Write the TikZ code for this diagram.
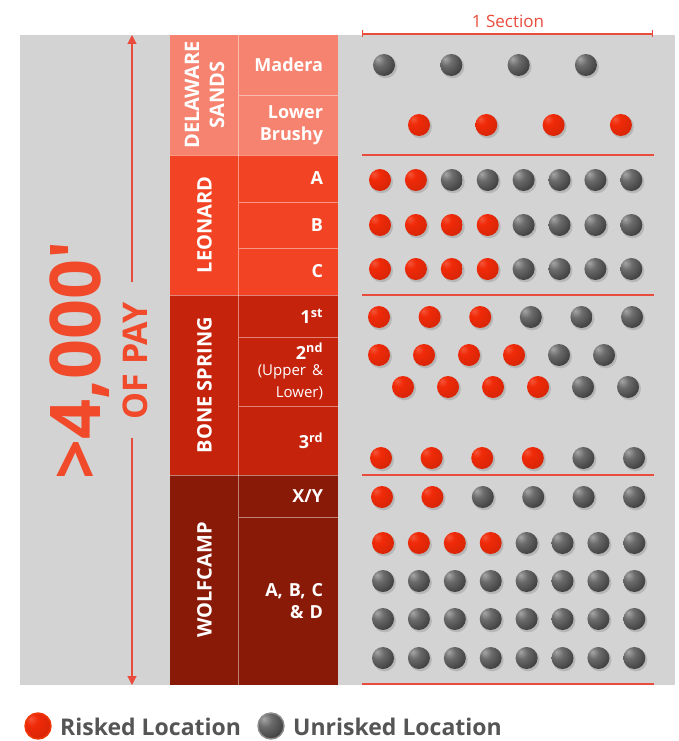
\documentclass[tikz,border=0pt]{standalone}
\usepackage{fontspec}
\setmainfont{Open Sans}
\usepackage{xcolor}
\usetikzlibrary{arrows.meta}

\definecolor{panelgray}{HTML}{D3D3D3}
\definecolor{delawarecol}{HTML}{F5836F}
\definecolor{leonardcol}{HTML}{F24424}
\definecolor{bonecol}{HTML}{C5230C}
\definecolor{wolfcol}{HTML}{8A1A08}
\definecolor{accent}{HTML}{E94B3C}
\definecolor{paycol}{HTML}{F04A2A}
\definecolor{legendtext}{HTML}{555555}
\definecolor{dotred}{HTML}{F02A08}

\pgfdeclareradialshading{redball}{\pgfpoint{-14bp}{14bp}}{%
  color(0bp)=(dotred!80!white); color(12bp)=(dotred); color(40bp)=(dotred!88!black);
  color(70bp)=(dotred!65!black); color(100bp)=(dotred!65!black)}
\pgfdeclareradialshading{grayball}{\pgfpoint{-14bp}{14bp}}{%
  color(0bp)=(black!35); color(14bp)=(black!58); color(45bp)=(black!82);
  color(70bp)=(black!90); color(100bp)=(black!90)}

\begin{document}
\begin{tikzpicture}[
    x=1pt, y=-1pt,
    zonebox/.style={
        rectangle,
        rotate=90,
        inner sep=0pt,
        minimum height=69pt,
        align=center,
        text=white,
        font=\bfseries\fontsize{20}{25}\selectfont
    },
    layerbox/.style={
        rectangle,
        minimum width=99pt,
        text width=69pt,
        inner xsep=15pt,
        inner ysep=0pt,
        align=right,
        text=white,
        font=\bfseries\fontsize{18}{22}\selectfont
    },
    divider/.style={
        draw=white,
        draw opacity=0.45,
        line width=0.9pt
    },
    sepline/.style={
        draw=accent,
        line width=1.6pt
    },
    payarrow/.style={
        -{Triangle[length=9pt,width=9pt]},
        draw=accent,
        line width=1.1pt
    },
    risked/.style={shading=redball},
    unrisked/.style={shading=grayball},
    dotshadow/.style={fill=black, fill opacity=0.13},
    legendlabel/.style={
        anchor=base west,
        inner sep=0pt,
        text=legendtext,
        font=\bfseries\fontsize{23}{26}\selectfont
    }
]
\useasboundingbox (0,0) rectangle (679,741);

% =========================================================
% Panel
% =========================================================
\fill[panelgray] (20,35) rectangle (675,685);

% =========================================================
% Formation zones
% =========================================================
\node[zonebox, fill=delawarecol, minimum width=120pt] (delaware) at (204.5,95)
{DELAWARE\\SANDS};
\node[zonebox, fill=leonardcol, minimum width=140pt] (leonard) at (204.5,225)
{LEONARD};
\node[zonebox, fill=bonecol, minimum width=180pt] (bone) at (204.5,385)
{BONE SPRING};
\node[zonebox, fill=wolfcol, minimum width=210pt] (wolfcamp) at (204.5,580)
{WOLFCAMP};

% =========================================================
% Benches
% =========================================================
\node[layerbox, fill=delawarecol, minimum height=60pt] (madera) at (288.5,65)
{Madera};
\node[layerbox, fill=delawarecol, minimum height=60pt] (brushy) at (288.5,125)
{Lower\\Brushy};

\node[layerbox, fill=leonardcol, minimum height=47pt] (leoA) at (288.5,178.5) {A};
\node[layerbox, fill=leonardcol, minimum height=46pt] (leoB) at (288.5,225) {B};
\node[layerbox, fill=leonardcol, minimum height=47pt] (leoC) at (288.5,271.5) {C};

\node[layerbox, fill=bonecol, minimum height=42pt] (bone1) at (288.5,316)
{1\textsuperscript{st}};
\node[layerbox, fill=bonecol, minimum height=69pt] (bone2) at (288.5,371.5)
{2\textsuperscript{nd}\\[-2pt]\mdseries\fontsize{15}{18}\selectfont(Upper \&\\Lower)};
\node[layerbox, fill=bonecol, minimum height=69pt] (bone3) at (288.5,440.5)
{3\textsuperscript{rd}};

\node[layerbox, fill=wolfcol, minimum height=42pt] (wolfxy) at (288.5,496) {X/Y};
\node[layerbox, fill=wolfcol, minimum height=168pt] (wolfabcd) at (288.5,601)
{A, B, C\\\& D};

% =========================================================
% Cell dividers
% =========================================================
\draw[divider] (madera.north west) -- (wolfabcd.south west);
\draw[divider] (madera.south west) -- (madera.south east);
\draw[divider] (leoA.south west) -- (leoA.south east);
\draw[divider] (leoB.south west) -- (leoB.south east);
\draw[divider] (bone1.south west) -- (bone1.south east);
\draw[divider] (bone2.south west) -- (bone2.south east);
\draw[divider] (wolfxy.south west) -- (wolfxy.south east);
\draw[divider] (brushy.south east) -- (brushy.south east -| delaware.north);
\draw[divider] (leoC.south east) -- (leoC.south east -| delaware.north);
\draw[divider] (bone3.south east) -- (bone3.south east -| delaware.north);

% =========================================================
% Pay thickness
% =========================================================
\coordinate (paytop) at (132,35);
\coordinate (paybottom) at (132,685);
\coordinate (gaptop) at (132,282);
\coordinate (gapbottom) at (132,438);
\draw[payarrow] (gaptop) -- (paytop);
\draw[payarrow] (gapbottom) -- (paybottom);

\node[rotate=90, anchor=base, inner sep=0pt, text=paycol,
      font=\bfseries\fontsize{70}{70}\selectfont] (paytext) at (100,360) {>4,000′};
\node[rotate=90, anchor=base, inner sep=0pt, text=paycol,
      font=\bfseries\fontsize{34}{34}\selectfont] (payunit) at (147,361) {OF PAY};

% =========================================================
% Section width
% =========================================================
\coordinate (secleft) at (362,34);
\coordinate (secright) at (653,34);
\draw[draw=accent, line width=1.2pt, {Bar[width=7pt]}-{Bar[width=7pt]}] (secleft) -- (secright);
\node[text=accent, font=\fontsize{17}{20}\selectfont] (section) at (508,21) {1 Section};

\coordinate (sepA-l) at (362,155);  \coordinate (sepA-r) at (654,155);
\coordinate (sepB-l) at (362,295);  \coordinate (sepB-r) at (654,295);
\coordinate (sepC-l) at (362,475);  \coordinate (sepC-r) at (654,475);
\coordinate (sepD-l) at (362,684);  \coordinate (sepD-r) at (654,684);
\draw[sepline] (sepA-l) -- (sepA-r);
\draw[sepline] (sepB-l) -- (sepB-r);
\draw[sepline] (sepC-l) -- (sepC-r);
\draw[sepline] (sepD-l) -- (sepD-r);

% =========================================================
% Well locations (row y / first x / spacing / risked / total)
% =========================================================
\foreach \yy/\xa/\dx/\nr/\nt in {
    65/384/67.3/0/4, 125/419/67.3/4/4,
    180/380/35.9/2/8, 225/380/35.9/4/8, 269/380/35.9/4/8,
    317/379/50.6/3/6, 355/379/45/4/6, 387/403/45/4/6, 458/381/50.6/4/6,
    497/382/50.4/2/6,
    543/383/35.9/4/8, 581/383/35.9/0/8, 619/383/35.9/0/8, 658/383/35.9/0/8}{
  \foreach \k in {1,...,\nt}{
    \pgfmathsetmacro{\xx}{\xa+(\k-1)*\dx}
    \ifnum\k>\nr \def\kind{unrisked}\else\def\kind{risked}\fi
    \fill[dotshadow] (\xx+1.5,\yy+1.8) circle[radius=11.5];
    \shade[\kind] (\xx,\yy) circle[radius=11];
  }
}

% =========================================================
% Legend
% =========================================================
\shade[risked, draw=dotred!85!orange, line width=1.4pt] (38,726) circle[radius=13];
\node[legendlabel] (risked-key) at (60,735) {Risked Location};
\shade[unrisked, draw=black!45, line width=1.4pt] (271,726) circle[radius=13];
\node[legendlabel] (unrisked-key) at (293,735) {Unrisked Location};

\end{tikzpicture}
\end{document}
